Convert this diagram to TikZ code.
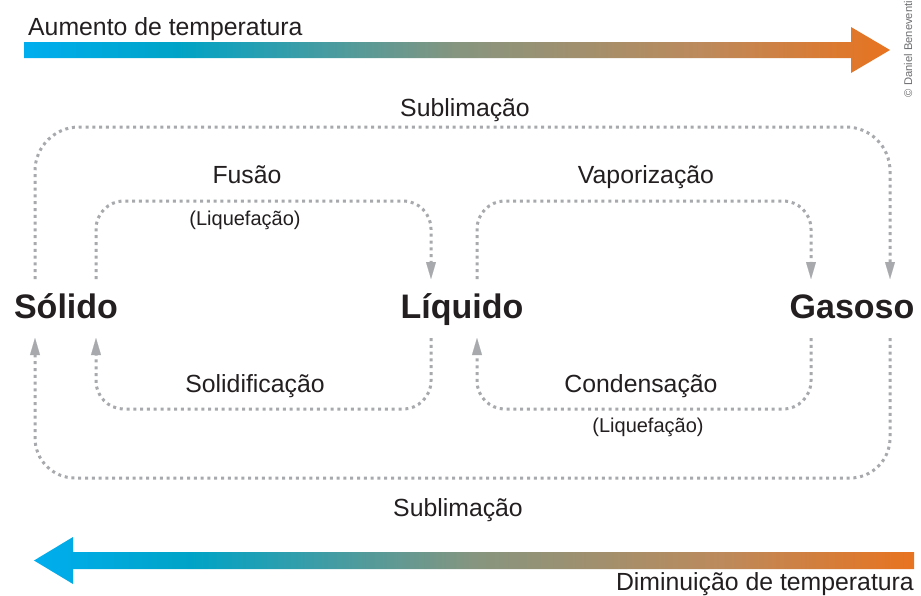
\documentclass[tikz,border=0pt]{standalone}
\usepackage{fontspec}
\setmainfont{Liberation Sans}
\usetikzlibrary{arrows.meta}
\definecolor{gc1}{HTML}{00AEEF}
\definecolor{gc2}{HTML}{00A3C6}
\definecolor{gc3}{HTML}{86957F}
\definecolor{gc4}{HTML}{BC8A5C}
\definecolor{gc5}{HTML}{E8731F}
\definecolor{dotgray}{HTML}{A7A9AC}
\definecolor{txt}{HTML}{231F20}
\definecolor{copygray}{HTML}{6D6E71}
\pgfdeclarehorizontalshading{tempgrad}{100bp}{color(0bp)=(gc1); color(25bp)=(gc1); color(34bp)=(gc2); color(50bp)=(gc3); color(64bp)=(gc4); color(75bp)=(gc5); color(100bp)=(gc5)}
\begin{document}
\begin{tikzpicture}[x=1pt,y=-1pt,
  dotline/.style={draw=dotgray, line width=3pt, dash pattern=on 3pt off 3.8pt},
  arrowend/.style={-{Triangle[length=17pt,width=10pt,line width=0.1pt]}},
  phase/.style={font=\fontsize{34}{34}\selectfont\bfseries, text=txt, inner sep=0pt},
  lbl/.style={font=\fontsize{24.8}{24.8}\selectfont, text=txt, inner sep=0pt},
  sublbl/.style={font=\fontsize{20}{20}\selectfont, text=txt, inner sep=0pt}]
\fill[white] (0,0) rectangle (921,595);
\useasboundingbox (0,0) rectangle (921,595);

% temperature arrows
\shade[shading=tempgrad] (24,42) -- (851,42) -- (851,27) -- (890,50) -- (851,73) -- (851,58) -- (24,58) -- cycle;
\shade[shading=tempgrad] (914,552) -- (73,552) -- (73,537) -- (34,560.5) -- (73,584) -- (73,569) -- (914,569) -- cycle;
\node[lbl, anchor=base west] (up) at (28,35) {Aumento de temperatura};
\node[lbl, anchor=base east] (down) at (914,590) {Diminuição de temperatura};
\node[rotate=90, font=\fontsize{11.2}{11.2}\selectfont, text=copygray, inner sep=0pt] (copy) at (908,49) {© Daniel Beneventi};

% phases
\node[phase, anchor=base] (sol) at (66,318) {Sólido};
\node[phase, anchor=base] (liq) at (462,318) {Líquido};
\node[phase, anchor=base] (gas) at (852,318) {Gasoso};

% connector end points
\coordinate (sOT) at (35,279);  \coordinate (sIT) at (96,279);
\coordinate (sOB) at (35,338);  \coordinate (sIB) at (96,338);
\coordinate (lLT) at (431,279); \coordinate (lRT) at (477,279);
\coordinate (lLB) at (431,338); \coordinate (lRB) at (477,338);
\coordinate (gIT) at (811,279); \coordinate (gOT) at (890,279);
\coordinate (gIB) at (811,338); \coordinate (gOB) at (890,338);

% loops
\draw[dotline, arrowend, rounded corners=44pt] (sOT) -- (sOT |- 0,127) -- (gOT |- 0,127) -- (gOT);
\draw[dotline, arrowend, rounded corners=28pt] (sIT) -- (sIT |- 0,201) -- (lLT |- 0,201) -- (lLT);
\draw[dotline, arrowend, rounded corners=28pt] (lRT) -- (lRT |- 0,201) -- (gIT |- 0,201) -- (gIT);
\draw[dotline, arrowend, rounded corners=28pt] (lLB) -- (lLB |- 0,409) -- (sIB |- 0,409) -- (sIB);
\draw[dotline, arrowend, rounded corners=28pt] (gIB) -- (gIB |- 0,409) -- (lRB |- 0,409) -- (lRB);
\draw[dotline, arrowend, rounded corners=40pt] (gOB) -- (gOB |- 0,478) -- (sOB |- 0,478) -- (sOB);

% labels
\node[lbl, anchor=base] (sub1) at (465,116) {Sublimação};
\node[lbl, anchor=base] (fus) at (247,183) {Fusão};
\node[sublbl, anchor=base] (liq1) at (245,225) {(Liquefação)};
\node[lbl, anchor=base] (vap) at (646,183) {Vaporização};
\node[lbl, anchor=base] (solid) at (255,392) {Solidificação};
\node[lbl, anchor=base] (cond) at (641,392) {Condensação};
\node[sublbl, anchor=base] (liq2) at (648,432) {(Liquefação)};
\node[lbl, anchor=base] (sub2) at (458,516) {Sublimação};
\end{tikzpicture}
\end{document}
